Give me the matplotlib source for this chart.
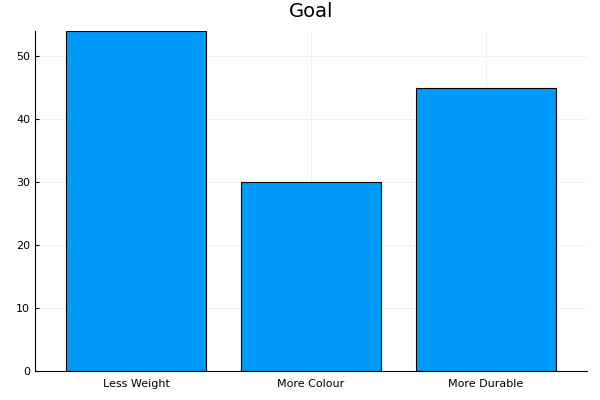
import matplotlib
matplotlib.use("Agg")
import matplotlib.pyplot as plt

categories = ["Less Weight", "More Colour", "More Durable"]
counts = [54, 30, 45]
yticks = [0, 10, 20, 30, 40, 50]

fig = plt.figure(figsize=(6, 4), dpi=100)
ax = fig.add_axes([35 / 600, 29 / 400, 552 / 600, 340 / 400])

positions = [1, 2, 3]
ax.bar(positions, counts, width=0.8, color="#009AFA", edgecolor="black", linewidth=0.8, zorder=2)

ax.set_xlim(0.42, 3.58)
ax.set_ylim(0, 54)
ax.set_xticks(positions)
ax.set_xticklabels(categories)
ax.set_yticks(yticks)
ax.grid(True, color="#efefef", linewidth=0.6, zorder=0)
ax.set_axisbelow(True)

for side in ["top", "right"]:
    ax.spines[side].set_visible(False)
for side in ["left", "bottom"]:
    ax.spines[side].set_linewidth(0.8)

ax.tick_params(axis="both", direction="in", length=3, width=0.8, labelsize=8, colors="black")
ax.tick_params(axis="x", pad=6)
ax.set_title("Goal", fontsize=14, pad=10)

fig.savefig("out.png", dpi=100)
